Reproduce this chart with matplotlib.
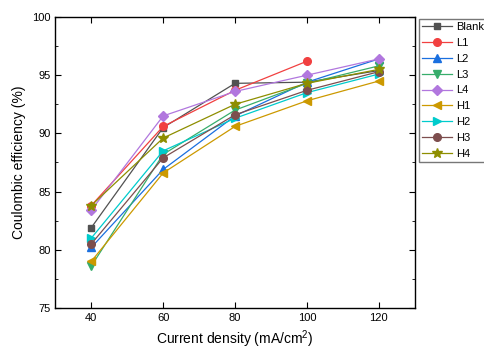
import matplotlib
matplotlib.use("Agg")
import matplotlib.pyplot as plt
from matplotlib.ticker import MultipleLocator

plt.rcParams["font.family"] = ["Liberation Sans", "DejaVu Sans"]
plt.rcParams["mathtext.fontset"] = "custom"
plt.rcParams["mathtext.rm"] = "Liberation Sans"
plt.rcParams["mathtext.default"] = "regular"

# current density (mA/cm2)
current = [40, 60, 80, 100, 120]

# coulombic efficiency (%) per sample
blank = [81.9, 90.5, 94.3, 94.4, 95.4]
l1 = [83.8, 90.6, 93.7, 96.2]
l2 = [80.2, 86.9, 91.5, 94.4, 96.4]
l3 = [78.6, 88.2, 92.0, 94.3, 95.8]
l4 = [83.4, 91.5, 93.6, 95.0, 96.4]
h1 = [79.0, 86.6, 90.6, 92.8, 94.5]
h2 = [81.0, 88.5, 91.3, 93.5, 95.1]
h3 = [80.5, 87.9, 91.6, 93.7, 95.3]
h4 = [83.8, 89.6, 92.5, 94.3, 95.5]

labels = ["Blank", "L1", "L2", "L3", "L4", "H1", "H2", "H3", "H4"]
series = [blank, l1, l2, l3, l4, h1, h2, h3, h4]
colors = ["#515151", "#F14040", "#1A6FDF", "#37AD6B", "#B177DE",
          "#CC9900", "#00CBCC", "#7D4E4E", "#8E8E00"]
markers = ["s", "o", "^", "v", "D", "<", ">", "o", "*"]
msizes = [5, 5.5, 5.5, 5.5, 5, 5.5, 5.5, 5.5, 7]

fig = plt.figure(figsize=(4.84, 3.54), dpi=100)
ax = fig.add_axes([0.1143, 0.13, 0.7427, 0.822])

for y, lab, c, m, ms in zip(series, labels, colors, markers, msizes):
    ax.plot(current[:len(y)], y, color=c, marker=m, markersize=ms,
            linewidth=0.9, label=lab)

ax.set_xlim(30, 130)
ax.set_ylim(75, 100)
ax.xaxis.set_major_locator(MultipleLocator(20))
ax.yaxis.set_major_locator(MultipleLocator(5))
ax.yaxis.set_minor_locator(MultipleLocator(2.5))
ax.tick_params(which="both", direction="in", top=True, right=True, labelsize=8)
ax.tick_params(axis="x", which="minor", top=False, bottom=False)
ax.tick_params(which="major", length=4)
ax.tick_params(which="minor", length=2)
for s in ax.spines.values():
    s.set_linewidth(1)

ax.set_xlabel("Current density (mA/cm$^2$)", fontsize=10)
ax.set_ylabel("Coulombic efficiency (%)", fontsize=10)

leg = ax.legend(loc="upper left", bbox_to_anchor=(419 / 484, 1 - 19 / 354),
                bbox_transform=fig.transFigure, fontsize=8, frameon=True,
                fancybox=False, edgecolor="#555555", handlelength=2.7,
                labelspacing=0.52, borderaxespad=0, borderpad=0.3,
                handletextpad=0.3, markerscale=1.0)
leg.get_frame().set_linewidth(1)

fig.savefig("out.png", dpi=100)
